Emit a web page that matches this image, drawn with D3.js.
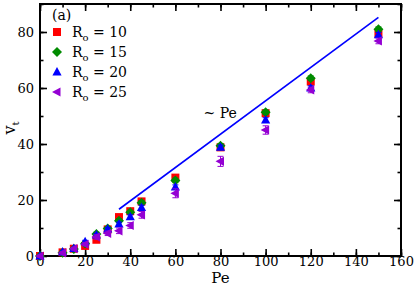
<!doctype html>
<html lang="en">
<head>
<meta charset="utf-8">
<title>vt vs Pe</title>
<script src="https://d3js.org/d3.v7.min.js"></script>
<style>
  body { margin: 0; background: #fff; }
  svg text { font-family: "DejaVu Serif", serif; fill: #000; }
</style>
</head>
<body>
<div id="chart"></div>
<script>
// data
var pe    = [0, 10, 15, 20, 25, 30, 35, 40, 45, 60, 80, 100, 120, 150];
var r10   = [0, 1.3, 2.6, 3.6, 5.8, 9.5, 13.9, 16.0, 19.5, 28.0, 38.8, 51.0, 62.3, 79.5];
var r15   = [0, 1.2, 2.5, 4.5, 7.9, 9.8, 12.6, 15.6, 19.0, 27.0, 39.4, 51.3, 63.5, 81.0];
var r20   = [0, 1.4, 2.7, 5.1, 7.5, 9.6, 11.4, 14.0, 17.3, 24.6, 38.8, 48.6, 60.0, 79.0];
var r25   = [0, 1.1, 2.6, 4.2, 6.8, 8.1, 9.0, 10.9, 14.7, 22.4, 33.8, 45.0, 59.3, 76.8];
var err25 = [0.3, 0.4, 0.5, 0.6, 0.8, 0.8, 1.0, 1.0, 1.2, 1.6, 1.8, 1.5, 1.0, 1.0];
var errSm = [0.3, 0.3, 0.4, 0.5, 0.6, 0.6, 0.7, 0.7, 0.8, 0.8, 0.8, 0.8, 0.8, 0.8];
var fitX  = [35, 150];
var fitY  = [16.7, 85.2];
var xTicks = [0, 20, 40, 60, 80, 100, 120, 140, 160];
var yTicks = [0, 20, 40, 60, 80];

var series = [
  {name: "10", vals: r10, err: errSm, color: "#ff0000", shape: "square"},
  {name: "15", vals: r15, err: errSm, color: "#008b00", shape: "diamond"},
  {name: "20", vals: r20, err: errSm, color: "#0000ff", shape: "up"},
  {name: "25", vals: r25, err: err25, color: "#9400d3", shape: "left"}
];

var W = 415, H = 288;
var m = {left: 40, right: 14, top: 4, bottom: 32};
var serif = '"DejaVu Serif", serif';

var svg = d3.select("#chart").append("svg")
  .attr("width", W).attr("height", H);

var x = d3.scaleLinear().domain([0, 160]).range([m.left, W - m.right]);
var y = d3.scaleLinear().domain([0, 90]).range([H - m.bottom, m.top]);

function marker(shape) {
  if (shape == "square") return "M-4,-4H4V4H-4Z";
  if (shape == "diamond") return "M0,-5L5,0L0,5L-5,0Z";
  if (shape == "up") return "M0,-5L4.6,3.5L-4.6,3.5Z";
  return "M-5,0L3.5,-4.6L3.5,4.6Z";
}

// axes, ticks pointing inward on all four sides
var minorX = d3.range(0, 161, 10), minorY = d3.range(0, 91, 10);
var bottom = svg.append("g").attr("transform", "translate(0," + y(0) + ")");
bottom.call(d3.axisBottom(x).tickValues(minorX).tickSize(-3.5).tickFormat(""));
bottom.append("g").call(d3.axisBottom(x).tickValues(xTicks).tickSize(-7).tickPadding(1).tickFormat(d3.format("d")));
var top_ = svg.append("g").attr("transform", "translate(0," + y(90) + ")");
top_.call(d3.axisTop(x).tickValues(minorX).tickSize(-3.5).tickFormat(""));
top_.append("g").call(d3.axisTop(x).tickValues(xTicks).tickSize(-7).tickFormat(""));
var left = svg.append("g").attr("transform", "translate(" + x(0) + ",0)");
left.call(d3.axisLeft(y).tickValues(minorY).tickSize(-3.5).tickFormat(""));
left.append("g").call(d3.axisLeft(y).tickValues(yTicks).tickSize(-7).tickPadding(6).tickFormat(d3.format("d")));
var right = svg.append("g").attr("transform", "translate(" + x(160) + ",0)");
right.call(d3.axisRight(y).tickValues(minorY).tickSize(-3.5).tickFormat(""));
right.append("g").call(d3.axisRight(y).tickValues(yTicks).tickSize(-7).tickFormat(""));

svg.selectAll(".domain").remove();
svg.selectAll("g").attr("font-family", serif);
svg.selectAll(".tick line").attr("stroke", "#000").attr("stroke-width", 1.6);
svg.selectAll(".tick text").style("font-size", "13px").style("font-family", serif);

svg.append("rect")
  .attr("x", x(0)).attr("y", y(90))
  .attr("width", x(160) - x(0)).attr("height", y(0) - y(90))
  .attr("fill", "none").attr("stroke", "#000").attr("stroke-width", 2);

// fit line
svg.append("line")
  .attr("x1", x(fitX[0])).attr("y1", y(fitY[0]))
  .attr("x2", x(fitX[1])).attr("y2", y(fitY[1]))
  .attr("stroke", "#0000ff").attr("stroke-width", 1.6);

svg.append("text").attr("x", x(72.5)).attr("y", y(49.3))
  .style("font-size", "14px").style("font-family", serif).text("~ Pe");

// points with error bars
series.forEach(function(s) {
  var g = svg.append("g").attr("fill", s.color).attr("stroke", s.color);
  pe.forEach(function(p, i) {
    var cx = x(p), lo = y(s.vals[i] - s.err[i]), hi = y(s.vals[i] + s.err[i]);
    g.append("line").attr("x1", cx).attr("x2", cx).attr("y1", lo).attr("y2", hi).attr("stroke-width", 1);
    g.append("line").attr("x1", cx - 3).attr("x2", cx + 3).attr("y1", lo).attr("y2", lo).attr("stroke-width", 1);
    g.append("line").attr("x1", cx - 3).attr("x2", cx + 3).attr("y1", hi).attr("y2", hi).attr("stroke-width", 1);
    g.append("path").attr("d", marker(s.shape))
      .attr("transform", "translate(" + cx + "," + y(s.vals[i]) + ")")
      .attr("stroke", "none");
  });
});

// legend
svg.append("text").attr("x", 52).attr("y", 20).style("font-size", "14px").style("font-family", serif).text("(a)");
series.forEach(function(s, i) {
  var ly = 32 + i * 20;
  svg.append("path").attr("d", marker(s.shape))
    .attr("transform", "translate(57," + ly + ")").attr("fill", s.color);
  var t = svg.append("text").attr("x", 72).attr("y", ly + 5)
    .style("font-size", "14px").style("font-family", serif);
  t.append("tspan").text("R");
  t.append("tspan").attr("dy", 4).style("font-size", "10px").text("o");
  t.append("tspan").attr("dy", -4).text(" = " + s.name);
});

// axis titles
svg.append("text").attr("x", (x(0) + x(160)) / 2).attr("y", 283)
  .attr("text-anchor", "middle").style("font-size", "15px").style("font-family", serif).text("Pe");
var yl = svg.append("text").attr("transform", "translate(15,128) rotate(-90)")
  .attr("text-anchor", "middle").style("font-size", "16px").style("font-family", serif);
yl.append("tspan").text("v");
yl.append("tspan").attr("dy", 4).style("font-size", "10px").text("t");
</script>
</body>
</html>
